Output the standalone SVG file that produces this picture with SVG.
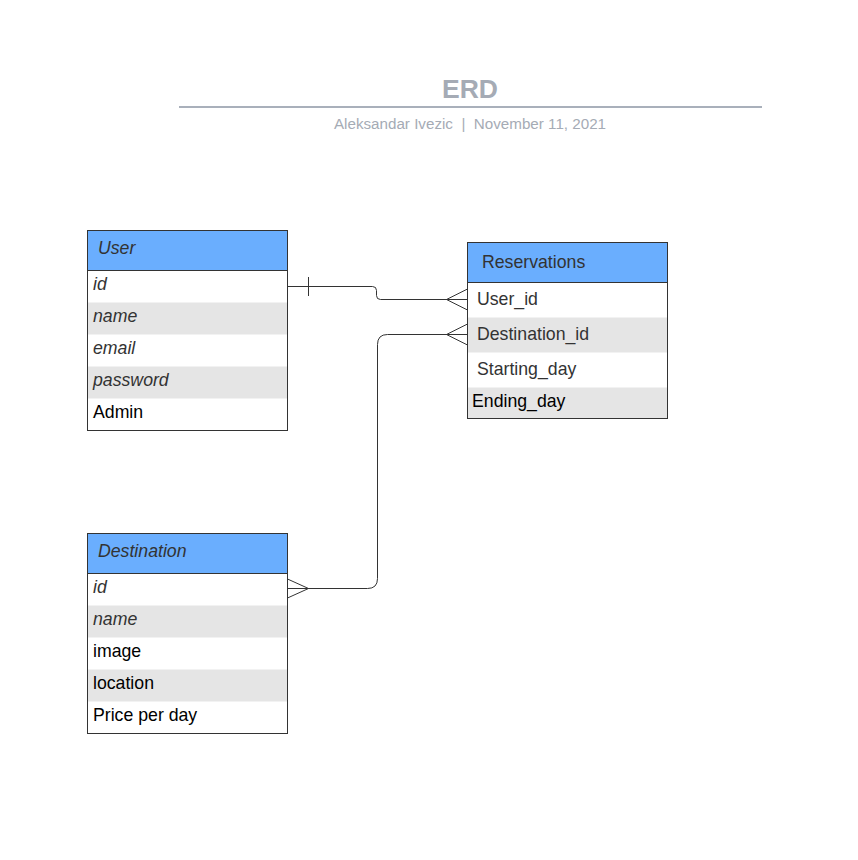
<svg xmlns="http://www.w3.org/2000/svg" width="858" height="860" viewBox="0 0 858 860">
<style>
text{font-family:"Liberation Sans",Arial,sans-serif}
.hdr{fill:#6aaefe}
.alt{fill:#e5e5e5}
.frame{fill:none;stroke:#333;stroke-width:1}
.sep{stroke:#333;stroke-width:1}
.ht{font-size:17.7px;fill:#333}
.it{font-size:17.7px;fill:#333;font-style:italic}
.nt{font-size:17.7px;fill:#000}
.gt{font-size:17.7px;fill:#333}
.conn{fill:none;stroke:#333;stroke-width:1}
</style>
<rect width="858" height="860" fill="#fff"/>
<g id="title">
<text x="470" y="98" text-anchor="middle" font-size="26.5" font-weight="bold" fill="#a5abb5">ERD</text>
<line x1="179" y1="107" x2="762" y2="107" stroke="#a9b0bb" stroke-width="2"/>
<text x="470" y="128.5" text-anchor="middle" font-size="15.2" fill="#a5abb5" style="white-space:pre" xml:space="preserve">Aleksandar Ivezic  |  November 11, 2021</text>
</g>
<g id="user">
<rect x="87.5" y="230.5" width="200" height="40" class="hdr"/>
<rect x="87.5" y="270.5" width="200" height="160" fill="#fff"/>
<rect x="87.5" y="302.5" width="200" height="32" class="alt"/>
<rect x="87.5" y="366.5" width="200" height="32" class="alt"/>
<line x1="87.5" y1="270.5" x2="287.5" y2="270.5" class="sep"/>
<rect x="87.5" y="230.5" width="200" height="200" class="frame"/>
<text x="98" y="254" class="it">User</text>
<text x="93" y="290" class="it">id</text>
<text x="93" y="322" class="it">name</text>
<text x="93" y="354" class="it">email</text>
<text x="93" y="386" class="it">password</text>
<text x="93" y="418" class="nt">Admin</text>
</g>
<g id="reservations">
<rect x="467.5" y="242.5" width="200" height="40" class="hdr"/>
<rect x="467.5" y="282.5" width="200" height="136" fill="#fff"/>
<rect x="467.5" y="317.5" width="200" height="35" class="alt"/>
<rect x="467.5" y="387.5" width="200" height="31" class="alt"/>
<line x1="467.5" y1="282.5" x2="667.5" y2="282.5" class="sep"/>
<rect x="467.5" y="242.5" width="200" height="176" class="frame"/>
<text x="482" y="267.5" class="ht">Reservations</text>
<text x="477" y="304.5" class="gt">User_id</text>
<text x="477" y="339.5" class="gt">Destination_id</text>
<text x="477" y="374.5" class="gt">Starting_day</text>
<text x="472" y="407" class="nt">Ending_day</text>
</g>
<g id="destination">
<rect x="87.5" y="533.5" width="200" height="40" class="hdr"/>
<rect x="87.5" y="573.5" width="200" height="160" fill="#fff"/>
<rect x="87.5" y="605.5" width="200" height="32" class="alt"/>
<rect x="87.5" y="669.5" width="200" height="32" class="alt"/>
<line x1="87.5" y1="573.5" x2="287.5" y2="573.5" class="sep"/>
<rect x="87.5" y="533.5" width="200" height="200" class="frame"/>
<text x="98" y="557" class="it">Destination</text>
<text x="93" y="593" class="it">id</text>
<text x="93" y="625" class="it">name</text>
<text x="93" y="657" class="nt">image</text>
<text x="93" y="689" class="nt">location</text>
<text x="93" y="721" class="nt">Price per day</text>
</g>
<g id="connectors">
<path class="conn" d="M287.5,286.5 H372.5 Q376.5,286.5 376.5,290.5 V295.5 Q376.5,299.5 380.5,299.5 H467.5"/>
<line class="conn" x1="308.5" y1="277" x2="308.5" y2="296"/>
<path class="conn" d="M467.5,289 L446.5,299.5 L467.5,310"/>
<path class="conn" d="M467.5,334.5 H387.5 Q377.5,334.5 377.5,344.5 V578.5 Q377.5,588.5 367.5,588.5 H287.5"/>
<path class="conn" d="M467.5,324 L446.5,334.5 L467.5,345"/>
<path class="conn" d="M287.5,579 L308.5,588.5 L287.5,598"/>
</g>
</svg>
